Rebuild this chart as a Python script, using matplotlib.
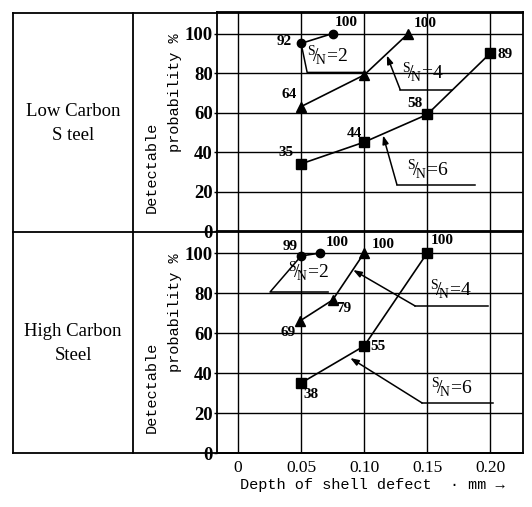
import matplotlib
matplotlib.use("Agg")
import matplotlib.pyplot as plt
from matplotlib.lines import Line2D

W, H = 532, 507

# data (x: depth mm, y: detectable probability %)
x_ticks = [0, 0.05, 0.10, 0.15, 0.20]
x_tick_labels = ["0", "0.05", "0.10", "0.15", "0.20"]
y_ticks = [0, 20, 40, 60, 80, 100]

low_sn2_x = [0.05, 0.075]
low_sn2_y = [95, 100]
low_sn2_lab = ["92", "100"]
low_sn4_x = [0.05, 0.10, 0.135]
low_sn4_y = [63, 79, 100]
low_sn4_lab = ["64", "", "100"]
low_sn6_x = [0.05, 0.10, 0.15, 0.20]
low_sn6_y = [34, 45, 59, 90]
low_sn6_lab = ["35", "44", "58", "89"]

high_sn2_x = [0.05, 0.065]
high_sn2_y = [98.5, 100]
high_sn2_lab = ["99", "100"]
high_sn4_x = [0.049, 0.075, 0.10]
high_sn4_y = [66, 76.5, 100]
high_sn4_lab = ["69", "79", "100"]
high_sn6_x = [0.05, 0.10, 0.15]
high_sn6_y = [35, 53.5, 100]
high_sn6_lab = ["38", "55", "100"]

# label offsets in pixels (dx right, dy up)
low_off = {
    "sn2": [(-17, 2), (14, 11)],
    "sn4": [(-12, 12), (0, 0), (17, 10)],
    "sn6": [(-15, 11), (-10, 9), (-12, 11), (15, -1)],
}
high_off = {
    "sn2": [(-11, 10), (17, 10)],
    "sn4": [(-12, -11), (11, -8), (19, 9)],
    "sn6": [(10, -12), (14, -1), (15, 13)],
}

serif = "Liberation Serif"
mono = "Liberation Mono"


def px_box(left, top, right, bottom):
    return [left / W, 1 - bottom / H, (right - left) / W, (bottom - top) / H]


plt.rcParams["mathtext.fontset"] = "custom"
plt.rcParams["mathtext.rm"] = serif
fig = plt.figure(figsize=(W / 100, H / 100), dpi=100)
fig.patch.set_facecolor("white")

ax_top = fig.add_axes(px_box(217, 12, 523, 231))
ax_bot = fig.add_axes(px_box(217, 232, 523, 453))


def sn_label(ax, pos, n):
    # S over N with a slash, then "=n"; pos is the centre of the S/N sign
    ax.annotate(r"$\mathregular{^{S}\!/_{\!N}\!=\!}$" + str(n), pos, xytext=(-8, 0),
                textcoords="offset points", ha="left", va="center",
                fontsize=14, family=serif)


def callout(ax, tip, knee, end):
    ax.plot([knee[0], end[0]], [knee[1], end[1]], color="black", lw=1.1)
    ax.annotate("", xy=tip, xytext=knee,
                arrowprops=dict(arrowstyle="-|>,head_length=0.5,head_width=0.18",
                                color="black", lw=1.1, shrinkA=0, shrinkB=0))


def draw_series(ax, xs, ys, labs, offs, marker, ms):
    ax.plot(xs, ys, color="black", lw=1.2, marker=marker, ms=ms,
            markerfacecolor="black", markeredgecolor="black", zorder=3)
    for x, y, lab, (dx, dy) in zip(xs, ys, labs, offs):
        if lab:
            ax.annotate(lab, (x, y), xytext=(dx * 0.72, dy * 0.72),
                        textcoords="offset points", ha="center", va="center",
                        fontsize=11, family=serif, fontweight="bold")


for ax, ylim in [(ax_top, 110.9), (ax_bot, 110.5)]:
    ax.set_xlim(-0.0167, 0.226)
    ax.set_ylim(0, ylim)
    for xv in x_ticks:
        ax.axvline(xv, color="black", lw=1.0, zorder=1)
    for yv in y_ticks[1:]:
        ax.axhline(yv, color="black", lw=1.0, zorder=1)
    ax.set_xticks(x_ticks)
    ax.set_yticks(y_ticks)
    ax.set_yticklabels([str(v) for v in y_ticks], family=serif,
                       fontweight="bold", fontsize=13.5)
    ax.tick_params(axis="y", length=2, pad=1, width=1)
    ax.tick_params(axis="x", length=0)
    for s in ax.spines.values():
        s.set_linewidth(1.3)

ax_top.set_xticklabels([])
ax_bot.set_xticklabels(x_tick_labels, family=serif, fontsize=12.5)
ax_bot.tick_params(axis="x", pad=5)

# low carbon steel
draw_series(ax_top, low_sn2_x, low_sn2_y, low_sn2_lab, low_off["sn2"], "o", 6)
draw_series(ax_top, low_sn4_x, low_sn4_y, low_sn4_lab, low_off["sn4"], "^", 7)
draw_series(ax_top, low_sn6_x, low_sn6_y, low_sn6_lab, low_off["sn6"], "s", 7)
ax_top.plot([0.05, 0.0548, 0.099], [95, 80.3, 80.3], color="black", lw=1.1)
sn_label(ax_top, (0.0635, 88.9), 2)
callout(ax_top, (0.118, 88.9), (0.1286, 71.6), (0.170, 71.6))
sn_label(ax_top, (0.139, 80.3), 4)
callout(ax_top, (0.115, 48.4), (0.126, 23.5), (0.188, 23.5))
sn_label(ax_top, (0.1429, 31.6), 6)

# high carbon steel
draw_series(ax_bot, high_sn2_x, high_sn2_y, high_sn2_lab, high_off["sn2"], "o", 6)
draw_series(ax_bot, high_sn4_x, high_sn4_y, high_sn4_lab, high_off["sn4"], "^", 7)
draw_series(ax_bot, high_sn6_x, high_sn6_y, high_sn6_lab, high_off["sn6"], "s", 7)
ax_bot.plot([0.05, 0.0254, 0.0714], [98.5, 80.5, 80.5], color="black", lw=1.1)
sn_label(ax_bot, (0.0484, 91), 2)
callout(ax_bot, (0.0913, 91.5), (0.1405, 73.5), (0.198, 73.5))
sn_label(ax_bot, (0.161, 82), 4)
callout(ax_bot, (0.089, 47.5), (0.146, 25), (0.202, 25))
sn_label(ax_bot, (0.162, 33), 6)


# outer table frame
def fline(x0, y0, x1, y1):
    fig.add_artist(Line2D([x0 / W, x1 / W], [1 - y0 / H, 1 - y1 / H],
                          color="black", lw=1.3))


fline(13, 13, 523, 13)
fline(13, 453, 523, 453)
fline(13, 13, 13, 453)
fline(133, 13, 133, 453)
fline(13, 232, 217, 232)


def ftext(x, y, s, **kw):
    fig.text(x / W, 1 - y / H, s, **kw)


ftext(73, 112, "Low Carbon", family=serif, fontsize=13.5, ha="center", va="center")
ftext(73, 136, "S teel", family=serif, fontsize=13.5, ha="center", va="center")
ftext(73, 332, "High Carbon", family=serif, fontsize=13.5, ha="center", va="center")
ftext(73, 356, "Steel", family=serif, fontsize=13.5, ha="center", va="center")

for top in (12, 232):
    ftext(152, top + 155, "Detectable", family=mono, fontsize=11,
          rotation=90, ha="center", va="center")
    ftext(175, top + 81, "probability %", family=mono, fontsize=11,
          rotation=90, ha="center", va="center")

ftext(372, 485, "Depth of shell defect  \u00b7 mm \u2192", family=mono,
      fontsize=11, ha="center", va="center")

fig.savefig("out.png", dpi=100)
